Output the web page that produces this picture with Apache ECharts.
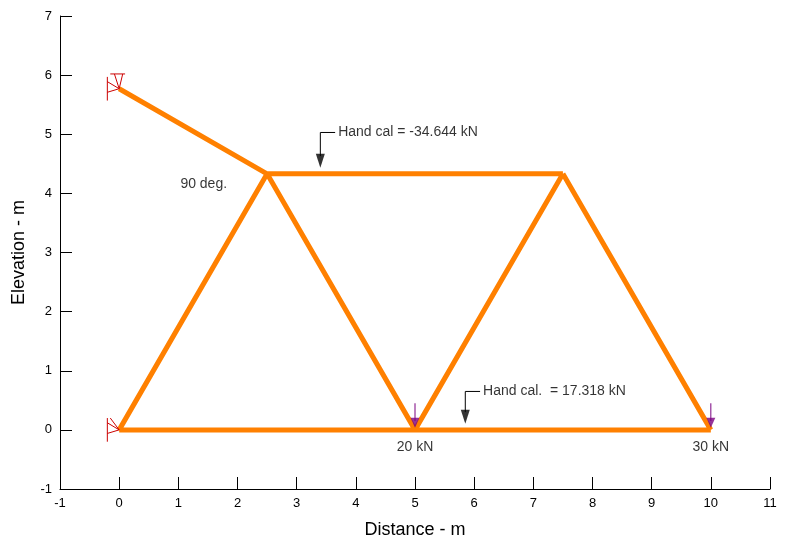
<!DOCTYPE html><html><head><meta charset="utf-8"><script src="https://cdn.jsdelivr.net/npm/echarts@6/dist/echarts.min.js"></script></head><body style="margin:0"><div id="c" style="width:794px;height:547px"></div><script>
var nodes = [[0,0],[2.5,4.33],[5,0],[7.5,4.33],[10,0],[0,5.77]];
var members = [[0,1],[1,2],[2,3],[3,4],[0,2],[2,4],[1,3],[5,1]];
var loads = [[5,0,'20 kN'],[10,0,'30 kN']];
var callouts = [[3.4,4.33,5.03,'Hand cal = -34.644 kN'],[5.85,0,0.65,'Hand cal.  = 17.318 kN']];
var series = [];
var segs = [];
members.forEach(function(m){segs.push(nodes[m[0]],nodes[m[1]],null);});
series.push({type:'line',data:segs,connectNulls:false,symbol:'none',lineStyle:{color:'#ff8000',width:5},z:3,animation:false});
function sup(x,y,top){
  var s=[[x-0.2,y-0.2],[x-0.2,y+0.2],null,[x-0.2,y+0.12],[x,y],[x-0.2,y-0.06],null];
  if(top){s.push([x-0.15,y+0.25],[x+0.1,y+0.25],null,[x-0.08,y+0.25],[x,y],[x+0.06,y+0.25],null);}
  else{s.push([x-0.15,y+0.2],[x,y],null);}
  return s;
}
series.push({type:'line',data:sup(0,0,false).concat(sup(0,5.77,true)),connectNulls:false,symbol:'none',lineStyle:{color:'#cc0000',width:1},z:4,animation:false});
var ld=[];loads.forEach(function(l){ld.push([l[0],l[1]+0.45],[l[0],l[1]+0.15],null);});
series.push({type:'line',data:ld,connectNulls:false,symbol:'none',lineStyle:{color:'#7a0080',width:1},z:5,animation:false});
series.push({type:'scatter',data:loads.map(function(l){return [l[0],l[1]+0.12];}),symbol:'triangle',symbolRotate:180,symbolSize:[9,10],itemStyle:{color:'#7a0080'},z:5,animation:false});
series.push({type:'scatter',data:loads.map(function(l){return {value:[l[0],l[1]],label:{show:true,formatter:l[2],position:'bottom',distance:10,color:'#000',fontSize:14,fontFamily:'Arial'}};}),symbolSize:0,z:6,animation:false});
var cl=[];callouts.forEach(function(c){cl.push([c[0],c[1]+0.3],[c[0],c[2]],[c[0]+0.25,c[2]],null);});
series.push({type:'line',data:cl,connectNulls:false,symbol:'none',lineStyle:{color:'#000',width:1},z:5,animation:false});
series.push({type:'scatter',data:callouts.map(function(c){return [c[0],c[1]+0.22];}),symbol:'triangle',symbolRotate:180,symbolSize:[9,14],itemStyle:{color:'#000'},z:5,animation:false});
series.push({type:'scatter',data:callouts.map(function(c){return {value:[c[0]+0.25,c[2]],label:{show:true,formatter:c[3],position:'right',distance:3,color:'#000',fontSize:14,fontFamily:'Arial'}};}).concat([{value:[0.95,4.15],label:{show:true,formatter:'90 deg.',position:'right',color:'#000',fontSize:14,fontFamily:'Arial'}}]),symbolSize:0,z:6,animation:false});
var ax={axisLine:{onZero:false,lineStyle:{color:'#000'}},axisTick:{inside:true,length:12,lineStyle:{color:'#000'}},splitLine:{show:false},axisLabel:{color:'#000',fontSize:13,fontFamily:'Arial'},nameLocation:'middle',nameTextStyle:{color:'#000',fontSize:18,fontFamily:'Arial'}};
echarts.init(document.getElementById('c')).setOption({animation:false,
grid:{left:60,right:24,top:16,bottom:58},
xAxis:Object.assign({type:'value',min:-1,max:11,interval:1,name:'Distance - m',nameGap:32},ax),
yAxis:Object.assign({type:'value',min:-1,max:7,interval:1,name:'Elevation - m',nameGap:32},ax),
series:series});
</script></body></html>
